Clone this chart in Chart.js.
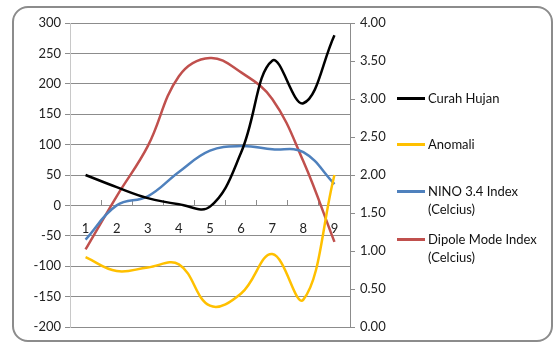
<!DOCTYPE html>
<html lang="id">
<head>
  <meta charset="utf-8">
  <title>Curah Hujan, Anomali, NINO 3.4 dan Dipole Mode Index</title>
  <script src="https://cdn.jsdelivr.net/npm/chart.js@4.4.3/dist/chart.umd.min.js"></script>
  <style>
    html, body { margin: 0; padding: 0; background: #fff; }
    .wrap { position: relative; width: 559px; height: 345px; overflow: hidden; }
    .frame {
      position: absolute; left: 12px; top: 6px; width: 541px; height: 336px;
      box-sizing: border-box; border: 2px solid #8c8c8c; border-radius: 16px;
    }
    #chart { position: absolute; left: 0; top: 0; }
    .legend { position: absolute; left: 397px; top: 0; font: 13px Lato, sans-serif; color: #111; }
    .legend .item { position: absolute; left: 0; white-space: nowrap; line-height: 18px; }
    .legend .swatch { position: absolute; left: 0; top: 8px; width: 28px; height: 3px; }
    .legend .text { position: absolute; left: 31px; top: 0; }
  </style>
</head>
<body>
  <div class="wrap">
    <div class="frame"></div>
    <canvas id="chart" width="559" height="345"></canvas>
    <div class="legend" id="legend"></div>
  </div>

  <script>
    // data
    const bulan = ['1', '2', '3', '4', '5', '6', '7', '8', '9'];
    const curahHujan = [50, 30, 12, 2, -2, 87, 238, 168, 280];
    const anomali = [-85, -108, -102, -97, -165, -145, -80, -155, 50];
    const nino34 = [1.15, 1.60, 1.72, 2.04, 2.32, 2.38, 2.34, 2.30, 1.88];
    const dipole = [1.02, 1.72, 2.38, 3.30, 3.54, 3.35, 3.00, 2.18, 1.12];

    const seriesNames = ['Curah Hujan', 'Anomali', 'NINO 3.4 Index (Celcius)', 'Dipole Mode Index (Celcius)'];
    const seriesColors = ['#000000', '#ffc000', '#4f81bd', '#c0504d'];
    const legendTops = [89, 135, 182, 230];

    const gridColor = '#8c8c8c';
    const font = { family: 'Lato, sans-serif', size: 13 };

    function line(i, data, axis) {
      return {
        label: seriesNames[i],
        data: data,
        yAxisID: axis,
        borderColor: seriesColors[i],
        backgroundColor: seriesColors[i],
        borderWidth: 2.5,
        pointRadius: 0,
        tension: 0.4,
        fill: false
      };
    }

    new Chart(document.getElementById('chart'), {
      type: 'line',
      data: {
        labels: bulan,
        datasets: [
          line(0, curahHujan, 'y'),
          line(1, anomali, 'y'),
          line(2, nino34, 'y1'),
          line(3, dipole, 'y1')
        ]
      },
      options: {
        responsive: false,
        animation: false,
        layout: { padding: { left: 14, right: 0, top: 23, bottom: 18 } },
        plugins: { legend: { display: false }, tooltip: { enabled: false } },
        scales: {
          x: {
            position: { y: 0 },
            offset: true,
            afterFit: s => { s.height = 0; },
            grid: { offset: true, drawOnChartArea: false, color: gridColor, tickLength: -6 },
            border: { color: gridColor },
            ticks: { color: '#222', font: font, padding: 22, maxRotation: 0 }
          },
          y: {
            position: 'left',
            min: -200, max: 300,
            afterFit: s => { s.width = 56; },
            grid: { color: gridColor, tickLength: 5 },
            border: { color: '#c8c8c8' },
            ticks: { stepSize: 50, color: '#222', font: font, padding: 4 }
          },
          y1: {
            position: 'right',
            min: 0, max: 4,
            afterFit: s => { s.width = 209; },
            grid: { drawOnChartArea: false, color: gridColor, tickLength: 5 },
            border: { color: gridColor },
            ticks: { stepSize: 0.5, color: '#222', font: font, padding: 5, callback: v => v.toFixed(2) }
          }
        }
      }
    });

    const legend = document.getElementById('legend');
    seriesNames.forEach((name, i) => {
      const item = document.createElement('div');
      item.className = 'item';
      item.style.top = legendTops[i] + 'px';
      item.innerHTML = '<div class="swatch" style="background:' + seriesColors[i] + '"></div>' +
        '<div class="text">' + name.replace(' (', '<br>(') + '</div>';
      legend.appendChild(item);
    });
  </script>
</body>
</html>
